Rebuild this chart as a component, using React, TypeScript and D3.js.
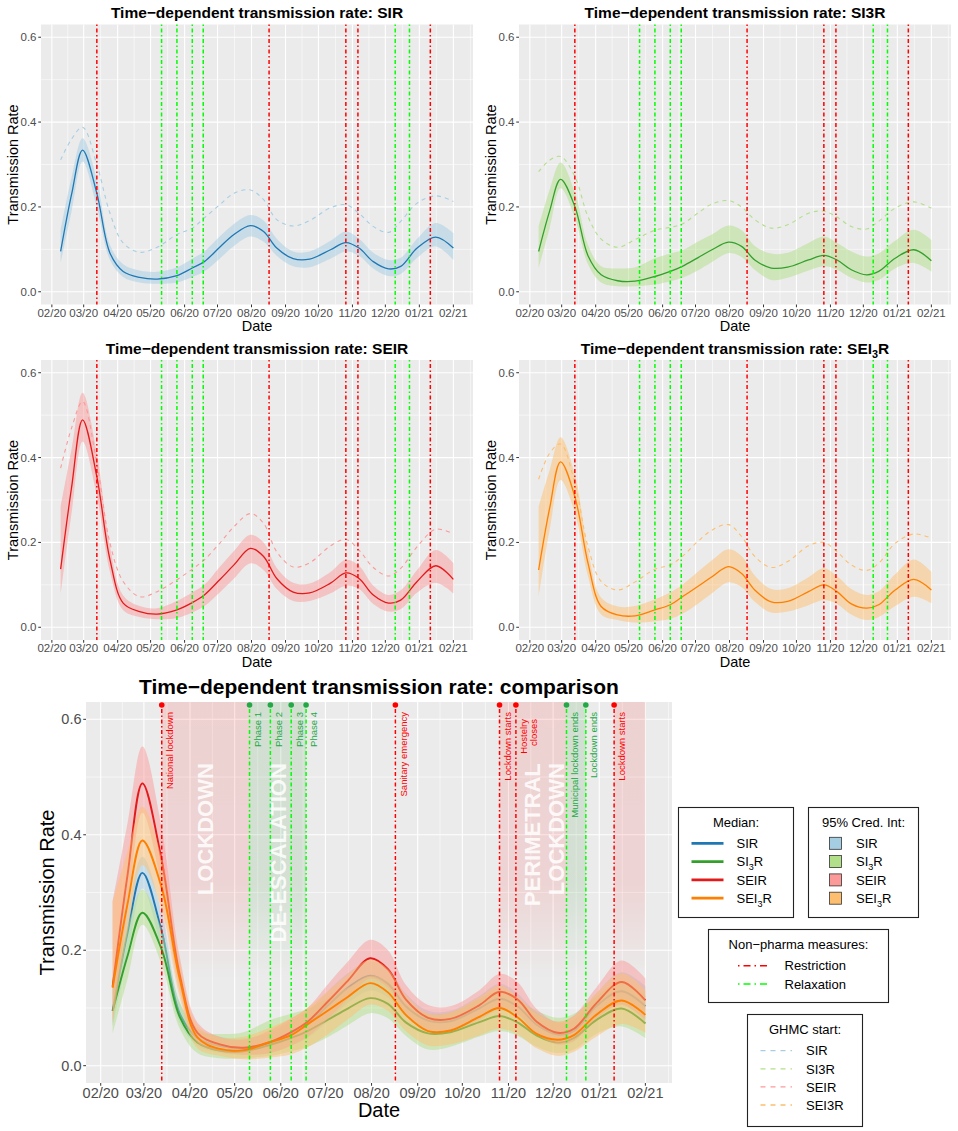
import React from "react";
import * as d3 from "d3";

const FONT = "'Liberation Sans', Arial, Helvetica, sans-serif";
const parse = d3.timeParse("%Y-%m-%d");

// ---------- DATA ----------
const knotDates = [
  "2020-02-09", "2020-02-19", "2020-02-29", "2020-03-13", "2020-03-25", "2020-04-06",
  "2020-04-21", "2020-05-07", "2020-05-25", "2020-06-08", "2020-06-19", "2020-07-03",
  "2020-07-16", "2020-07-31", "2020-08-12", "2020-08-24", "2020-09-08", "2020-09-23",
  "2020-10-12", "2020-10-26", "2020-11-07", "2020-11-20", "2020-12-04", "2020-12-15",
  "2020-12-30", "2021-01-16", "2021-02-01",
];

const sirMedian = [0.095, 0.23, 0.334, 0.232, 0.091, 0.048, 0.034, 0.030, 0.038, 0.056, 0.071, 0.105, 0.135, 0.156, 0.142, 0.103, 0.078, 0.077, 0.099, 0.116, 0.103, 0.071, 0.054, 0.060, 0.103, 0.129, 0.103];
const sirLower = [0.068, 0.19, 0.307, 0.200, 0.075, 0.035, 0.022, 0.019, 0.022, 0.035, 0.048, 0.078, 0.108, 0.130, 0.118, 0.085, 0.060, 0.058, 0.078, 0.095, 0.085, 0.055, 0.037, 0.042, 0.080, 0.107, 0.075];
const sirUpper = [0.146, 0.27, 0.362, 0.265, 0.110, 0.065, 0.050, 0.047, 0.058, 0.078, 0.095, 0.130, 0.160, 0.181, 0.168, 0.125, 0.095, 0.095, 0.120, 0.142, 0.125, 0.092, 0.075, 0.080, 0.125, 0.162, 0.138];
const sirGhmc = [0.311, 0.36, 0.388, 0.300, 0.185, 0.115, 0.093, 0.105, 0.135, 0.150, 0.174, 0.205, 0.232, 0.240, 0.217, 0.170, 0.155, 0.168, 0.198, 0.205, 0.185, 0.154, 0.140, 0.166, 0.209, 0.226, 0.213];

const si3rMedian = [0.095, 0.19, 0.265, 0.201, 0.085, 0.040, 0.026, 0.025, 0.036, 0.048, 0.060, 0.080, 0.099, 0.117, 0.107, 0.075, 0.056, 0.058, 0.075, 0.086, 0.075, 0.052, 0.040, 0.048, 0.079, 0.099, 0.073];
const si3rLower = [0.056, 0.15, 0.244, 0.175, 0.065, 0.022, 0.013, 0.013, 0.017, 0.025, 0.033, 0.050, 0.070, 0.091, 0.082, 0.052, 0.028, 0.033, 0.050, 0.060, 0.052, 0.033, 0.022, 0.028, 0.055, 0.068, 0.048];
const si3rUpper = [0.154, 0.24, 0.305, 0.235, 0.110, 0.060, 0.055, 0.058, 0.079, 0.090, 0.098, 0.118, 0.135, 0.156, 0.145, 0.108, 0.090, 0.092, 0.115, 0.130, 0.115, 0.095, 0.083, 0.090, 0.120, 0.146, 0.122];
const si3rGhmc = [0.283, 0.31, 0.319, 0.272, 0.177, 0.124, 0.105, 0.123, 0.145, 0.152, 0.160, 0.185, 0.207, 0.215, 0.200, 0.170, 0.150, 0.158, 0.185, 0.190, 0.176, 0.154, 0.148, 0.166, 0.197, 0.212, 0.197];

const seirMedian = [0.137, 0.33, 0.489, 0.355, 0.159, 0.057, 0.037, 0.031, 0.041, 0.058, 0.076, 0.112, 0.147, 0.186, 0.167, 0.115, 0.083, 0.081, 0.104, 0.128, 0.115, 0.076, 0.057, 0.064, 0.108, 0.145, 0.113];
const seirLower = [0.076, 0.27, 0.438, 0.310, 0.130, 0.040, 0.024, 0.019, 0.022, 0.035, 0.050, 0.082, 0.115, 0.151, 0.135, 0.090, 0.062, 0.062, 0.080, 0.098, 0.090, 0.055, 0.037, 0.043, 0.082, 0.105, 0.080];
const seirUpper = [0.284, 0.42, 0.553, 0.410, 0.190, 0.075, 0.050, 0.045, 0.062, 0.082, 0.100, 0.142, 0.180, 0.218, 0.200, 0.140, 0.105, 0.103, 0.130, 0.159, 0.145, 0.098, 0.076, 0.087, 0.135, 0.182, 0.151];
const seirGhmc = [0.375, 0.47, 0.532, 0.386, 0.198, 0.108, 0.072, 0.084, 0.112, 0.137, 0.159, 0.198, 0.237, 0.268, 0.245, 0.178, 0.142, 0.152, 0.192, 0.207, 0.182, 0.141, 0.121, 0.139, 0.190, 0.231, 0.220];

const sei3rMedian = [0.135, 0.28, 0.390, 0.308, 0.151, 0.049, 0.029, 0.027, 0.041, 0.053, 0.072, 0.096, 0.119, 0.143, 0.127, 0.088, 0.060, 0.061, 0.084, 0.100, 0.084, 0.055, 0.045, 0.053, 0.088, 0.113, 0.088];
const sei3rLower = [0.072, 0.23, 0.347, 0.270, 0.120, 0.030, 0.017, 0.011, 0.014, 0.020, 0.032, 0.055, 0.080, 0.106, 0.095, 0.060, 0.035, 0.037, 0.052, 0.064, 0.055, 0.030, 0.017, 0.024, 0.050, 0.072, 0.057];
const sei3rUpper = [0.284, 0.37, 0.448, 0.360, 0.180, 0.070, 0.049, 0.050, 0.066, 0.082, 0.100, 0.130, 0.158, 0.184, 0.168, 0.122, 0.090, 0.092, 0.118, 0.139, 0.120, 0.090, 0.076, 0.085, 0.125, 0.160, 0.131];
const sei3rGhmc = [0.349, 0.41, 0.432, 0.339, 0.190, 0.108, 0.088, 0.107, 0.137, 0.147, 0.167, 0.202, 0.229, 0.242, 0.214, 0.167, 0.141, 0.155, 0.192, 0.200, 0.178, 0.147, 0.134, 0.151, 0.198, 0.220, 0.210];

const modelNames = ["SIR", "SI3R", "SEIR", "SEI3R"];
const medianColors = ["#1F78B4", "#33A02C", "#E31A1C", "#FF7F00"];
const ribbonColors = ["#A6CEE3", "#B2DF8A", "#FB9A99", "#FDBF6F"];
const medians = [sirMedian, si3rMedian, seirMedian, sei3rMedian];
const lowers = [sirLower, si3rLower, seirLower, sei3rLower];
const uppers = [sirUpper, si3rUpper, seirUpper, sei3rUpper];
const ghmcs = [sirGhmc, si3rGhmc, seirGhmc, sei3rGhmc];

const eventDates = ["2020-03-13", "2020-05-11", "2020-05-25", "2020-06-08", "2020-06-18", "2020-08-17", "2020-10-26", "2020-11-06", "2020-12-10", "2020-12-23", "2021-01-11"];
const eventTypes = ["Restriction", "Relaxation", "Relaxation", "Relaxation", "Relaxation", "Restriction", "Restriction", "Restriction", "Relaxation", "Relaxation", "Restriction"];
const eventLabels = ["National lockdown", "Phase 1", "Phase 2", "Phase 3", "Phase 4", "Sanitary emergency", "Lockdown starts", "Hostelry\ncloses", "Municipal lockdown ends", "Lockdown ends", "Lockdown starts"];

const periodStarts = ["2020-03-13", "2020-05-11", "2020-10-26", "2020-12-10", "2021-01-11"];
const periodEnds = ["2020-05-11", "2020-06-18", "2020-12-10", "2020-12-23", "2021-02-01"];
const periodTypes = ["Restriction", "Relaxation", "Restriction", "Relaxation", "Restriction"];

const periodLabelDates = ["2020-04-11", "2020-05-30", "2020-11-25"];
const periodLabelTexts = ["LOCKDOWN", "DE-ESCALATION", "PERIMETRAL\nLOCKDOWN"];

const yMajor = [0, 0.2, 0.4, 0.6];
const yMinor = [0.1, 0.3, 0.5];
const yDomain: [number, number] = [-0.03, 0.63];

// ---------- STYLE ----------
const BG = "#EBEBEB";
const RED = "#FF0000";
const LIME = "#00FF00";
const GREEN_TXT = "#22A844";
const PANEL_DASH = "1.5,2.5,4,2.5";
const AXIS_TXT = "#4D4D4D";
const CURVE = d3.curveCatmullRom.alpha(0.5);

const dates = knotDates.map((s) => parse(s) as Date);
const t0 = dates[0];
const t1 = dates[dates.length - 1];
const span = +t1 - +t0;
const xDomain: [Date, Date] = [new Date(+t0 - 0.05 * span), new Date(+t1 + 0.05 * span)];
const majors = d3.timeMonth.range(parse("2020-02-01") as Date, parse("2021-02-02") as Date);
const minorsAll: Date[] = [];
minorsAll.push(new Date(+majors[0] - (+majors[1] - +majors[0]) / 2));
for (let i = 0; i < majors.length - 1; i++) minorsAll.push(new Date((+majors[i] + +majors[i + 1]) / 2));
minorsAll.push(new Date(+majors[majors.length - 1] + (+majors[majors.length - 1] - +majors[majors.length - 2]) / 2));
const minors = minorsAll.filter((d) => d >= xDomain[0] && d <= xDomain[1]);
const fmt = d3.timeFormat("%m/%y");

function ModelText({ name, size, sub }: { name: string; size: number; sub: boolean }) {
  if (!sub || name.indexOf("3") < 0) return <>{name}</>;
  const i = name.indexOf("3");
  const a = name.slice(0, i);
  const b = name.slice(i + 1);
  const off = size * 0.28;
  return (
    <>
      <tspan>{a}</tspan>
      <tspan fontSize={size * 0.7} dy={off}>3</tspan>
      <tspan dy={-off}>{b}</tspan>
    </>
  );
}

function Grid({ x, y, left, top, w, h }: any) {
  return (
    <g>
      <rect x={left} y={top} width={w} height={h} fill={BG} />
      {yMinor.map((v) => (
        <line key={"ym" + v} x1={left} x2={left + w} y1={y(v)} y2={y(v)} stroke="#fff" strokeWidth={0.55} />
      ))}
      {minors.map((d, i) => (
        <line key={"xm" + i} x1={x(d)} x2={x(d)} y1={top} y2={top + h} stroke="#fff" strokeWidth={0.55} />
      ))}
      {yMajor.map((v) => (
        <line key={"yM" + v} x1={left} x2={left + w} y1={y(v)} y2={y(v)} stroke="#fff" strokeWidth={1.1} />
      ))}
      {majors.map((d, i) => (
        <line key={"xM" + i} x1={x(d)} x2={x(d)} y1={top} y2={top + h} stroke="#fff" strokeWidth={1.1} />
      ))}
    </g>
  );
}

function Axes({ x, y, left, top, w, h, tickFont, titleFont, xLabOff, dateOff, yTitleX }: any) {
  const bottom = top + h;
  return (
    <g fontFamily={FONT}>
      {yMajor.map((v) => (
        <g key={"yt" + v}>
          <line x1={left - 2.75} x2={left} y1={y(v)} y2={y(v)} stroke="#333" strokeWidth={1} />
          <text x={left - 4.5} y={y(v)} dy="0.35em" textAnchor="end" fontSize={tickFont} fill={AXIS_TXT}>
            {v.toFixed(1)}
          </text>
        </g>
      ))}
      {majors.map((d, i) => (
        <g key={"xt" + i}>
          <line x1={x(d)} x2={x(d)} y1={bottom} y2={bottom + 2.75} stroke="#333" strokeWidth={1} />
          <text x={x(d)} y={bottom + xLabOff} textAnchor="middle" fontSize={tickFont} fill={AXIS_TXT}>
            {fmt(d)}
          </text>
        </g>
      ))}
      <text x={left + w / 2} y={bottom + dateOff} textAnchor="middle" fontSize={titleFont} fill="#000">
        Date
      </text>
      <text
        transform={`translate(${yTitleX},${top + h / 2}) rotate(-90)`}
        textAnchor="middle"
        dy="0.35em"
        fontSize={titleFont}
        fill="#000"
      >
        Transmission Rate
      </text>
    </g>
  );
}

function EventLine({ xx, y1, y2, isR }: { xx: number; y1: number; y2: number; isR: boolean }) {
  return (
    <line
      x1={xx}
      x2={xx}
      y1={y1}
      y2={y2}
      stroke={isR ? RED : LIME}
      strokeWidth={1.5}
      strokeDasharray={PANEL_DASH}
    />
  );
}

function SmallPanel({ m, left, top, sub }: { m: number; left: number; top: number; sub: boolean }) {
  const w = 432;
  const h = 280;
  const x = d3.scaleTime().domain(xDomain).range([left, left + w]);
  const y = d3.scaleLinear().domain(yDomain).range([top + h, top]);
  const area = d3
    .area<number>()
    .x((_, i) => x(dates[i]))
    .y0((_, i) => y(lowers[m][i]))
    .y1((_, i) => y(uppers[m][i]))
    .curve(CURVE);
  const line = d3
    .line<number>()
    .x((_, i) => x(dates[i]))
    .y((v) => y(v))
    .curve(CURVE);
  return (
    <g>
      <Grid x={x} y={y} left={left} top={top} w={w} h={h} />
      <path d={area(medians[m]) || ""} fill={ribbonColors[m]} fillOpacity={0.5} />
      <path d={line(medians[m]) || ""} fill="none" stroke={medianColors[m]} strokeWidth={1.3} />
      <path d={line(ghmcs[m]) || ""} fill="none" stroke={ribbonColors[m]} strokeWidth={1.1} strokeDasharray="4,4" />
      {eventDates.map((s, i) => (
        <EventLine key={"ev" + i} xx={x(parse(s) as Date)} y1={top} y2={top + h} isR={eventTypes[i] === "Restriction"} />
      ))}
      <Axes x={x} y={y} left={left} top={top} w={w} h={h} tickFont={11.5} titleFont={14.5} xLabOff={12} dateOff={26.5} yTitleX={left - 28} />
      <text x={left + w / 2} y={top - 6.5} textAnchor="middle" fontFamily={FONT} fontWeight="bold" fontSize={15.5} fill="#000">
        Time−dependent transmission rate: <ModelText name={modelNames[m]} size={15.5} sub={sub} />
      </text>
    </g>
  );
}

function BigPanel() {
  const left = 86;
  const top = 702;
  const w = 586;
  const h = 381;
  const x = d3.scaleTime().domain(xDomain).range([left, left + w]);
  const y = d3.scaleLinear().domain(yDomain).range([top + h, top]);
  const area = (m: number) =>
    d3
      .area<number>()
      .x((_, i) => x(dates[i]))
      .y0((_, i) => y(lowers[m][i]))
      .y1((_, i) => y(uppers[m][i]))
      .curve(CURVE)(medians[m]) || "";
  const line = d3
    .line<number>()
    .x((_, i) => x(dates[i]))
    .y((v) => y(v))
    .curve(CURVE);
  const fadeBottom = y(0.15);
  const labelTop = y(0.524);
  return (
    <g>
      <defs>
        <linearGradient id="fadeRed" x1="0" y1="0" x2="0" y2="1">
          <stop offset="0" stopColor={RED} stopOpacity={0.11} />
          <stop offset="0.65" stopColor={RED} stopOpacity={0.1} />
          <stop offset="1" stopColor={RED} stopOpacity={0} />
        </linearGradient>
        <linearGradient id="fadeGreen" x1="0" y1="0" x2="0" y2="1">
          <stop offset="0" stopColor="#228B22" stopOpacity={0.13} />
          <stop offset="0.65" stopColor="#228B22" stopOpacity={0.12} />
          <stop offset="1" stopColor="#228B22" stopOpacity={0} />
        </linearGradient>
      </defs>
      <Grid x={x} y={y} left={left} top={top} w={w} h={h} />
      {periodStarts.map((s, i) => {
        const x0 = x(parse(s) as Date);
        const x1 = x(parse(periodEnds[i]) as Date);
        return (
          <rect
            key={"p" + i}
            x={x0}
            y={top}
            width={x1 - x0}
            height={fadeBottom - top}
            fill={periodTypes[i] === "Restriction" ? "url(#fadeRed)" : "url(#fadeGreen)"}
          />
        );
      })}
      {[0, 1, 2, 3].map((m) => (
        <g key={"m" + m}>
          <path d={area(m)} fill={ribbonColors[m]} fillOpacity={0.5} />
          <path d={line(medians[m]) || ""} fill="none" stroke={medianColors[m]} strokeWidth={1.9} />
        </g>
      ))}
      {eventDates.map((s, i) => {
        const xx = x(parse(s) as Date);
        const isR = eventTypes[i] === "Restriction";
        const lines = eventLabels[i].split("\n");
        const lt = lines.length > 1 ? top + 17 : top + 10;
        return (
          <g key={"be" + i}>
            <EventLine xx={xx} y1={top + 3} y2={top + h} isR={isR} />
            <circle cx={xx} cy={top + 3} r={2.8} fill={isR ? RED : GREEN_TXT} />
            {lines.map((ln, j) => (
              <text
                key={j}
                transform={`translate(${xx + 8 + j * 9.5},${lt}) rotate(-90)`}
                textAnchor="end"
                dy="0.35em"
                fontFamily={FONT}
                fontSize={9.5}
                fill={isR ? RED : GREEN_TXT}
              >
                {ln}
              </text>
            ))}
          </g>
        );
      })}
      {periodLabelTexts.map((t, i) => {
        const cx = x(parse(periodLabelDates[i]) as Date);
        const lines = t.split("\n");
        const n = lines.length;
        return (
          <g key={"pl" + i}>
            {lines.map((ln, j) => (
              <text
                key={j}
                transform={`translate(${cx + (j - (n - 1) / 2) * 24},${labelTop}) rotate(-90)`}
                textAnchor="end"
                dy="0.36em"
                fontFamily={FONT}
                fontWeight="bold"
                fontSize={22}
                fill="#fff"
                fillOpacity={0.85}
              >
                {ln}
              </text>
            ))}
          </g>
        );
      })}
      <Axes x={x} y={y} left={left} top={top} w={w} h={h} tickFont={14.5} titleFont={20} xLabOff={15} dateOff={34} yTitleX={47} />
      <text x={left + w / 2} y={top - 8.5} textAnchor="middle" fontFamily={FONT} fontWeight="bold" fontSize={21} fill="#000">
        Time−dependent transmission rate: comparison
      </text>
    </g>
  );
}

function Legends() {
  const fs = 13;
  const boxStroke = "#222";
  return (
    <g fontFamily={FONT} fontSize={fs} fill="#000">
      <rect x={678.5} y={807.5} width={115} height={110} fill="#fff" stroke={boxStroke} strokeWidth={1.1} />
      <text x={736} y={826.5} textAnchor="middle">Median:</text>
      {modelNames.map((n, i) => (
        <g key={"lm" + i}>
          <line x1={691.5} x2={723.5} y1={843.3 + i * 18.3} y2={843.3 + i * 18.3} stroke={medianColors[i]} strokeWidth={2.8} />
          <text x={736.5} y={843.3 + i * 18.3 + 4.7}>
            <ModelText name={n} size={fs} sub={true} />
          </text>
        </g>
      ))}
      <rect x={808.5} y={807.5} width={110} height={110} fill="#fff" stroke={boxStroke} strokeWidth={1.1} />
      <text x={863.5} y={826.5} textAnchor="middle">95% Cred. Int:</text>
      {modelNames.map((n, i) => (
        <g key={"lc" + i}>
          <rect x={829.5} y={843.3 + i * 18.3 - 6} width={12} height={12} fill={ribbonColors[i]} stroke="#333" strokeWidth={0.8} />
          <text x={856} y={843.3 + i * 18.3 + 4.7}>
            <ModelText name={n} size={fs} sub={true} />
          </text>
        </g>
      ))}
      <rect x={708.5} y={929.5} width={180} height={73} fill="#fff" stroke={boxStroke} strokeWidth={1.1} />
      <text x={798.5} y={949} textAnchor="middle">Non−pharma measures:</text>
      {["Restriction", "Relaxation"].map((n, i) => (
        <g key={"ln" + i}>
          <line x1={738} x2={771} y1={965.7 + i * 18.3} y2={965.7 + i * 18.3} stroke={i === 0 ? RED : LIME} strokeWidth={1.6} strokeDasharray="1.5,4,7,4" />
          <text x={784.5} y={965.7 + i * 18.3 + 4.7}>{n}</text>
        </g>
      ))}
      <rect x={747.5} y={1014.5} width={115} height={112} fill="#fff" stroke={boxStroke} strokeWidth={1.1} />
      <text x={805} y={1034} textAnchor="middle">GHMC start:</text>
      {modelNames.map((n, i) => (
        <g key={"lg" + i}>
          <line x1={760.5} x2={792} y1={1050.7 + i * 18.1} y2={1050.7 + i * 18.1} stroke={ribbonColors[i]} strokeWidth={1.3} strokeDasharray="5,5" />
          <text x={806} y={1050.7 + i * 18.1 + 4.7}>{n}</text>
        </g>
      ))}
    </g>
  );
}

export default function App() {
  return (
    <div style={{ position: "absolute", left: 0, top: 0 }}>
      <svg width={958} height={1131} viewBox="0 0 958 1131" style={{ display: "block", background: "#fff" }}>
        <rect x={0} y={0} width={958} height={1131} fill="#fff" />
        <SmallPanel m={0} left={41} top={24.5} sub={false} />
        <SmallPanel m={1} left={519} top={24.5} sub={false} />
        <SmallPanel m={2} left={41} top={360} sub={true} />
        <SmallPanel m={3} left={519} top={360} sub={true} />
        <BigPanel />
        <Legends />
      </svg>
    </div>
  );
}
